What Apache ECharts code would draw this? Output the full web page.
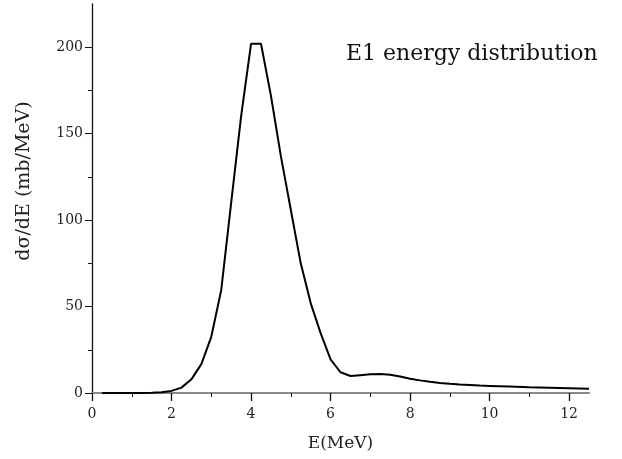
<!DOCTYPE html>
<html>
<head>
<meta charset="utf-8">
<script src="https://cdn.jsdelivr.net/npm/echarts@6/dist/echarts.min.js"></script>
<style>html,body{margin:0;padding:0;background:#fff}#c{width:622px;height:459px}</style>
</head>
<body>
<div id="c"></div>
<script>
var energies = [0.25,0.5,0.75,1.0,1.25,1.5,1.75,2.0,2.25,2.5,2.75,3.0,3.25,3.5,3.75,4.0,4.25,4.5,4.75,5.0,5.25,5.5,5.75,6.0,6.25,6.5,6.75,7.0,7.25,7.5,7.75,8.0,8.25,8.5,8.75,9.0,9.25,9.5,9.75,10.0,10.5,11.0,11.5,12.0,12.5];
var dsigma = [0,0,0,0,0,0.1,0.4,1.2,3.1,7.9,16.7,32.5,59.5,110,160,202,202,172,137,106,75,52,34.6,19.5,12,9.8,10.3,10.8,11.0,10.6,9.6,8.3,7.3,6.5,5.8,5.3,4.9,4.6,4.3,4.1,3.7,3.3,3.0,2.7,2.4];
var xTicks = [0,2,4,6,8,10,12];
var xMinorTicks = [1,3,5,7,9,11];
var yTicks = [0,50,100,150,200];
var yMinorTicks = [25,75,125,175];
var titleText = 'E1 energy distribution';
var xName = 'E(MeV)';
var yName = 'dσ/dE (mb/MeV)';

var font = 'DejaVu Serif';
var chart = echarts.init(document.getElementById('c'), null, {renderer:'canvas'});
var gridL = 92, gridT = 4, gridR = 33, gridB = 66;
chart.setOption({
  animation: false,
  backgroundColor: '#fff',
  title: {
    text: titleText, left: 341, top: 38,
    textStyle: {fontFamily: font, fontSize: 22, fontWeight: 'normal', color: '#111'}
  },
  graphic: [{
    type: 'text', x: 24, y: 181, rotation: Math.PI / 2,
    style: {text: yName, fontFamily: font, fontSize: 19, fill: '#222', align: 'center', verticalAlign: 'middle'},
    silent: true
  }],
  grid: {left: gridL, right: gridR, top: gridT, bottom: gridB, containLabel: false},
  xAxis: [{
    type: 'value', min: 0, max: 12.5, interval: 2,
    name: xName, nameLocation: 'middle', nameGap: 42,
    nameTextStyle: {fontFamily: font, fontSize: 17, color: '#222'},
    axisLine: {show: true, onZero: false, lineStyle: {color: '#8a8a8a', width: 2}},
    axisTick: {show: true, inside: false, length: 8, customValues: xTicks, lineStyle: {color: '#111', width: 1.3}},
    axisLabel: {fontFamily: font, fontSize: 14, color: '#222', margin: 14, customValues: xTicks},
    splitLine: {show: false}
  }, {
    type: 'value', min: 0, max: 12.5, position: 'bottom', gridIndex: 0,
    axisLine: {show: false},
    axisTick: {show: true, inside: false, length: 4, customValues: xMinorTicks, lineStyle: {color: '#111', width: 1}},
    axisLabel: {show: false},
    splitLine: {show: false}
  }],
  yAxis: [{
    type: 'value', min: 0, max: 225, interval: 50,
    axisLine: {show: true, lineStyle: {color: '#111', width: 1.3}},
    axisTick: {show: true, inside: false, length: 7, customValues: yTicks, lineStyle: {color: '#111', width: 1}},
    axisLabel: {fontFamily: font, fontSize: 14, color: '#222', margin: 9, customValues: yTicks},
    splitLine: {show: false}
  }, {
    type: 'value', min: 0, max: 225, position: 'left', gridIndex: 0,
    axisLine: {show: false},
    axisTick: {show: true, inside: false, length: 4, customValues: yMinorTicks, lineStyle: {color: '#111', width: 1}},
    axisLabel: {show: false},
    splitLine: {show: false}
  }],
  series: [{
    type: 'line', showSymbol: false, symbol: 'none', smooth: false,
    xAxisIndex: 0, yAxisIndex: 0,
    data: energies.map(function(e, i){ return [e, dsigma[i]]; }),
    lineStyle: {color: '#000', width: 2}, z: 3
  }]
});
</script>
</body>
</html>
